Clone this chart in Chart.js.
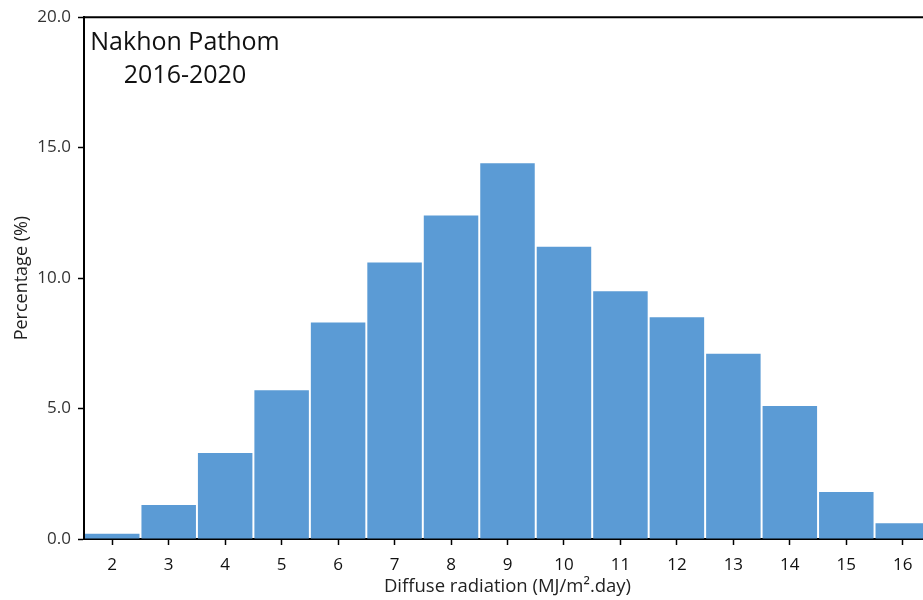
<!DOCTYPE html>
<html>
<head>
<meta charset="utf-8">
<script src="https://cdn.jsdelivr.net/npm/chart.js@4"></script>
<style>
  html, body { margin: 0; padding: 0; background: #fff; overflow: hidden; }
  #wrap { width: 940px; height: 600px; }
</style>
</head>
<body>
<div id="wrap"><canvas id="c" width="940" height="600"></canvas></div>
<script>
// Daily diffuse radiation histogram, Nakhon Pathom 2016-2020
const categories = ['2', '3', '4', '5', '6', '7', '8', '9', '10', '11', '12', '13', '14', '15', '16'];
const percentages = [0.2, 1.3, 3.3, 5.7, 8.3, 10.6, 12.4, 14.4, 11.2, 9.5, 8.5, 7.1, 5.1, 1.8, 0.6];
const titleLines = ['Nakhon Pathom', '2016-2020'];
const yTitle = 'Percentage (%)';
const xTitle = 'Diffuse radiation (MJ/m\u00B2.day)';

const FONT = '"Open Sans", "Noto Sans", sans-serif';

// Top frame line and the station label inside the plot
const framePlugin = {
  id: 'frame',
  afterDraw(chart) {
    const { ctx, chartArea } = chart;
    ctx.save();
    ctx.strokeStyle = '#000';
    ctx.lineWidth = 2;
    ctx.beginPath();
    ctx.moveTo(chartArea.left - 1, chartArea.top);
    ctx.lineTo(chartArea.right, chartArea.top);
    ctx.stroke();

    ctx.fillStyle = '#111';
    ctx.font = '25px ' + FONT;
    ctx.textAlign = 'center';
    ctx.textBaseline = 'middle';
    const cx = chartArea.left + 101;
    ctx.fillText(titleLines[0], cx, chartArea.top + 26);
    ctx.fillText(titleLines[1], cx, chartArea.top + 59);
    ctx.restore();
  }
};

new Chart(document.getElementById('c'), {
  type: 'bar',
  data: {
    labels: categories,
    datasets: [{
      data: percentages,
      backgroundColor: '#5B9BD5',
      borderWidth: 0,
      barPercentage: 0.965,
      categoryPercentage: 1.0
    }]
  },
  options: {
    responsive: false,
    animation: false,
    layout: { padding: { top: 16, right: 9, bottom: 0, left: 0 } },
    plugins: {
      legend: { display: false },
      tooltip: { enabled: false }
    },
    scales: {
      x: {
        grid: {
          offset: false,
          drawOnChartArea: false,
          color: '#000',
          tickColor: '#000',
          tickLength: 6,
          tickWidth: 1.5
        },
        border: { color: '#000', width: 2 },
        ticks: {
          color: '#111',
          font: { family: FONT, size: 17 },
          padding: 10,
          maxRotation: 0,
          autoSkip: false
        },
        title: {
          display: true,
          text: xTitle,
          color: '#222',
          font: { family: FONT, size: 18.5 },
          padding: { top: 0, bottom: 2 }
        },
        afterFit(scale) { scale.height = 61; }
      },
      y: {
        min: 0,
        max: 20,
        grid: {
          drawOnChartArea: false,
          color: '#000',
          tickColor: '#000',
          tickLength: 6,
          tickWidth: 1.5
        },
        border: { color: '#000', width: 2 },
        ticks: {
          stepSize: 5,
          color: '#333',
          font: { family: FONT, size: 17 },
          padding: 7,
          callback: v => Number(v).toFixed(1)
        },
        title: {
          display: true,
          text: yTitle,
          color: '#222',
          font: { family: FONT, size: 18 },
          padding: { top: 11, bottom: 0 }
        },
        afterFit(scale) { scale.width = 84; }
      }
    }
  },
  plugins: [framePlugin]
});
</script>
</body>
</html>
